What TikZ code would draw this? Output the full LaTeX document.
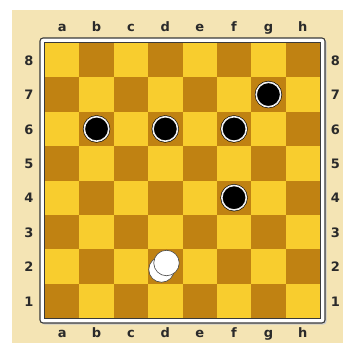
\documentclass[tikz,border=0pt]{standalone}
\usepackage{fontspec}
\setmainfont{DejaVu Sans}
\definecolor{bgbeige}{HTML}{F4E4B4}
\definecolor{lightsq}{HTML}{F8CD2E}
\definecolor{darksq}{HTML}{C08212}
\definecolor{frameline}{HTML}{3A3A3A}
\definecolor{labelcol}{HTML}{2A2A2A}
\tikzset{
  coordlabel/.style={text=labelcol, font=\fontsize{13}{15}\selectfont\bfseries, inner sep=0pt},
  blackpiece/.style={circle, minimum size=24.5pt, inner sep=0pt, fill=black, draw=black, line width=0.6pt, double=gray!10, double distance=1.6pt},
  whitepiece/.style={circle, minimum size=25.5pt, inner sep=0pt, fill=white, draw=gray!55!black, line width=0.6pt},
}
\begin{document}
\begin{tikzpicture}[x=1pt,y=-1pt]
\useasboundingbox (0,0) rectangle (343,343);
\fill[bgbeige] (12,10) rectangle (343,343);
% frame
\fill[gray!40, rounded corners=3pt] (41.5,39.5) rectangle (326.5,324.5);
\filldraw[fill=white, draw=frameline, line width=1.1pt, rounded corners=3pt] (40,38) rectangle (325,323);
% squares
\foreach \i in {0,...,7}{
  \foreach \j in {0,...,7}{
    \pgfmathtruncatemacro{\sqpar}{mod(\i+\j,2)}
    \ifnum\sqpar=0
      \fill[lightsq] ({45+34.375*\i},{43+34.375*\j}) rectangle ++(34.375,34.375);
    \else
      \fill[darksq] ({45+34.375*\i},{43+34.375*\j}) rectangle ++(34.375,34.375);
    \fi
  }
}
\draw[frameline, line width=0.8pt] (44.6,42.6) rectangle (320.4,318.4);
% file labels
\foreach \f [count=\k from 0] in {a,b,c,d,e,f,g,h}{
  \node[coordlabel, anchor=base] (top\f) at ({45+34.375*(\k+0.5)},31.8) {\f};
  \node[coordlabel, anchor=base] (bot\f) at ({45+34.375*(\k+0.5)},337) {\f};
}
% rank labels
\foreach \r [count=\k from 0] in {8,7,6,5,4,3,2,1}{
  \node[coordlabel] (left\r) at (29,{43+34.375*(\k+0.5)+0.5}) {\r};
  \node[coordlabel] (right\r) at (335.5,{43+34.375*(\k+0.5)+0.5}) {\r};
}
% black pieces
\node[blackpiece] (g7) at ({45+34.375*6.5},{43+34.375*1.5}) {};
\node[blackpiece] (b6) at ({45+34.375*1.5},{43+34.375*2.5}) {};
\node[blackpiece] (d6) at ({45+34.375*3.5},{43+34.375*2.5}) {};
\node[blackpiece] (f6) at ({45+34.375*5.5},{43+34.375*2.5}) {};
\node[blackpiece] (f4) at ({45+34.375*5.5},{43+34.375*4.5}) {};
% white king (two stacked pieces)
\node[whitepiece] (d2back) at (161.5,269.5) {};
\node[whitepiece] (d2front) at (166.5,263) {};
\end{tikzpicture}
\end{document}
